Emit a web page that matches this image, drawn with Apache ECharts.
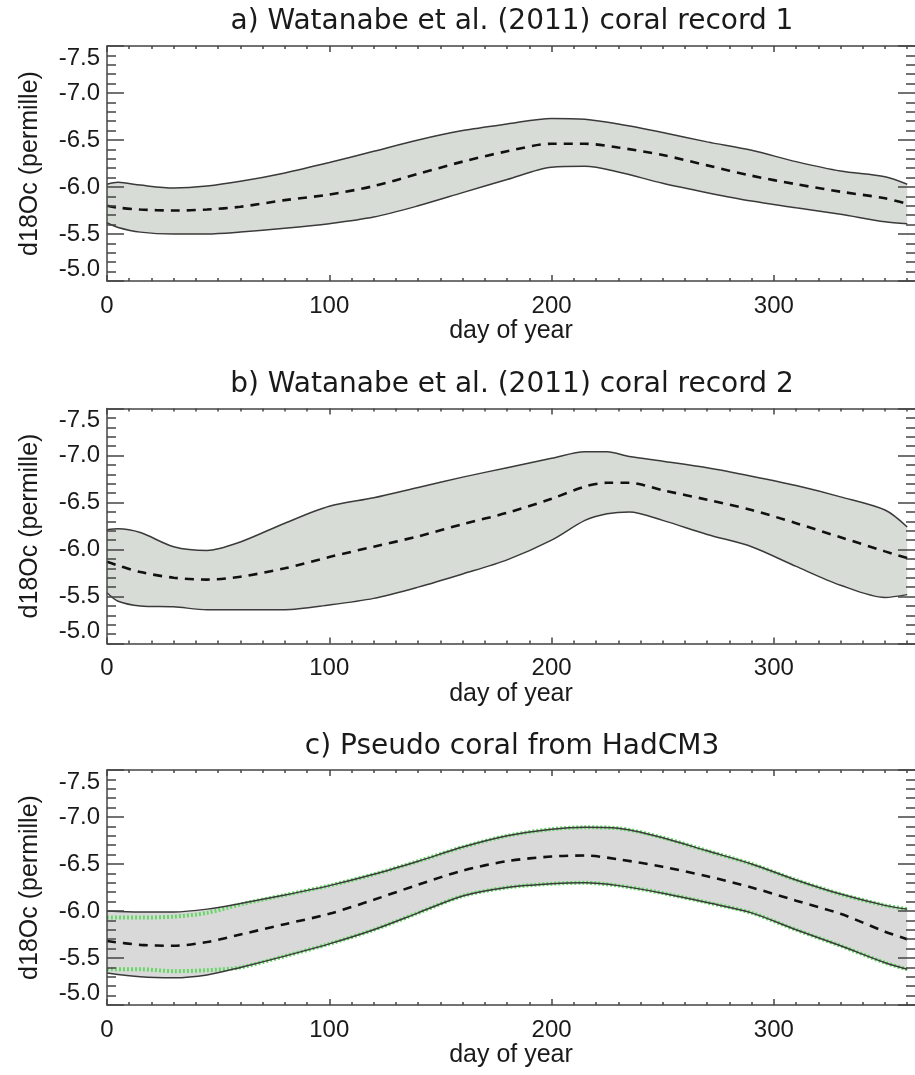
<!DOCTYPE html>
<html>
<head>
<meta charset="utf-8">
<script src="https://cdn.jsdelivr.net/npm/echarts@6/dist/echarts.min.js"></script>
<style>
html,body{margin:0;padding:0;background:#ffffff;}
#chart{width:915px;height:1075px;}
</style>
</head>
<body>
<div id="chart"></div>
<script>
// ---------------- data ----------------
const panelTitles = [
  'a) Watanabe et al. (2011) coral record 1',
  'b) Watanabe et al. (2011) coral record 2',
  'c) Pseudo coral from HadCM3'
];
const xAxisName = 'day of year';
const yAxisName = 'd18Oc (permille)';
const yTickValues = [-7.5, -7.0, -6.5, -6.0, -5.5, -5.0];
const xTickValues = [0, 100, 200, 300];
const xMinorTickValues = [10, 20, 30, 40, 50, 60, 70, 80, 90, 110, 120, 130, 140, 150, 160, 170, 180, 190,
  210, 220, 230, 240, 250, 260, 270, 280, 290, 310, 320, 330, 340, 350, 360];

// panel a
const daysA  = [0, 5, 15, 30, 45, 60, 80, 100, 120, 140, 160, 180, 200, 215, 230, 250, 270, 290, 310, 330, 350, 360];
const upperA = [-6.03, -6.05, -6.02, -5.99, -6.01, -6.06, -6.15, -6.26, -6.38, -6.50, -6.60, -6.67, -6.73, -6.72, -6.67, -6.58, -6.48, -6.39, -6.27, -6.17, -6.11, -6.03];
const meanA  = [-5.80, -5.78, -5.76, -5.75, -5.76, -5.79, -5.86, -5.92, -6.01, -6.14, -6.27, -6.38, -6.46, -6.46, -6.42, -6.34, -6.23, -6.12, -6.03, -5.95, -5.88, -5.82];
const lowerA = [-5.62, -5.57, -5.52, -5.50, -5.50, -5.52, -5.56, -5.61, -5.68, -5.80, -5.94, -6.08, -6.21, -6.22, -6.16, -6.04, -5.94, -5.85, -5.78, -5.71, -5.63, -5.61];

// panel b
const daysB  = [0, 5, 15, 30, 45, 60, 80, 100, 120, 140, 160, 180, 200, 215, 225, 235, 250, 270, 290, 310, 330, 350, 360];
const upperB = [-6.21, -6.22, -6.18, -6.03, -5.99, -6.08, -6.28, -6.46, -6.55, -6.66, -6.77, -6.87, -6.97, -7.04, -7.04, -6.99, -6.94, -6.87, -6.78, -6.68, -6.56, -6.42, -6.24];
const meanB  = [-5.87, -5.83, -5.76, -5.70, -5.68, -5.71, -5.80, -5.92, -6.03, -6.14, -6.27, -6.39, -6.54, -6.67, -6.71, -6.71, -6.63, -6.53, -6.42, -6.28, -6.13, -5.98, -5.91];
const lowerB = [-5.54, -5.45, -5.40, -5.39, -5.36, -5.36, -5.36, -5.41, -5.48, -5.60, -5.74, -5.89, -6.10, -6.31, -6.38, -6.40, -6.31, -6.16, -6.03, -5.82, -5.62, -5.49, -5.52];

// panel c
const daysC  = [0, 15, 30, 45, 60, 80, 100, 120, 140, 160, 180, 200, 215, 230, 250, 270, 290, 310, 330, 350, 360];
const upperC = [-6.00, -5.99, -5.99, -6.02, -6.08, -6.17, -6.27, -6.39, -6.53, -6.68, -6.80, -6.87, -6.89, -6.88, -6.78, -6.64, -6.50, -6.33, -6.18, -6.06, -6.02];
const meanC  = [-5.68, -5.64, -5.63, -5.67, -5.75, -5.86, -5.97, -6.12, -6.28, -6.43, -6.53, -6.58, -6.59, -6.55, -6.47, -6.37, -6.25, -6.11, -5.97, -5.78, -5.70];
const lowerC = [-5.34, -5.30, -5.29, -5.32, -5.40, -5.52, -5.65, -5.80, -5.98, -6.16, -6.25, -6.29, -6.30, -6.27, -6.19, -6.09, -5.98, -5.80, -5.63, -5.45, -5.38];
const greenUpperC = [-5.93, -5.93, -5.94, -5.98, -6.07, -6.17, -6.27, -6.39, -6.53, -6.68, -6.80, -6.87, -6.89, -6.88, -6.78, -6.64, -6.50, -6.33, -6.18, -6.06, -6.02];
const greenLowerC = [-5.38, -5.38, -5.36, -5.37, -5.40, -5.52, -5.65, -5.80, -5.98, -6.16, -6.25, -6.29, -6.30, -6.27, -6.19, -6.09, -5.98, -5.80, -5.63, -5.45, -5.38];

// ---------------- layout / style ----------------
const gridTops = [46, 408.5, 770];
const titleTops = [8, 371, 733];
const gridLeft = 107, gridWidth = 813, gridHeight = 235;
const xMax = 363.5;
const axisColor = '#444444';
const textColor = '#1a1a1a';
const labelFont = 'Liberation Sans, Arial, Helvetica, sans-serif';
const titleFont = 'DejaVu Sans, Liberation Sans, sans-serif';

const panels = [
  {days: daysA, upper: upperA, mean: meanA, lower: lowerA, fill: '#d8dcd7'},
  {days: daysB, upper: upperB, mean: meanB, lower: lowerB, fill: '#d8dcd7'},
  {days: daysC, upper: upperC, mean: meanC, lower: lowerC, fill: '#d9d9d9',
   gUpper: greenUpperC, gLower: greenLowerC}
];

const pairs = (days, vals) => days.map((d, k) => [d, vals[k]]);

const grid = [], xAxis = [], yAxis = [], series = [], title = [];

panels.forEach((p, i) => {
  grid.push({left: gridLeft, top: gridTops[i], width: gridWidth, height: gridHeight, containLabel: false});
  title.push({
    text: panelTitles[i], left: 512, top: titleTops[i], textAlign: 'center', padding: 0,
    textStyle: {fontSize: 28, fontWeight: 'normal', fontFamily: titleFont, color: textColor}
  });
  const baseX = {gridIndex: i, type: 'value', min: 0, max: xMax, z: 10, splitLine: {show: false}};
  // bottom major (with labels + name)
  xAxis.push(Object.assign({}, baseX, {
    position: 'bottom',
    name: xAxisName, nameLocation: 'middle', nameGap: 35,
    nameTextStyle: {fontSize: 25, color: textColor, fontFamily: labelFont},
    axisLine: {show: true, onZero: false, lineStyle: {color: axisColor, width: 1.5}},
    axisTick: {show: true, inside: true, length: 6, customValues: xTickValues, lineStyle: {color: axisColor, width: 1.5}},
    axisLabel: {show: true, customValues: xTickValues, margin: 13, fontSize: 24, color: textColor, fontFamily: labelFont},
    minorTick: {show: false}
  }));
  // top major
  xAxis.push(Object.assign({}, baseX, {
    position: 'top',
    axisLine: {show: true, onZero: false, lineStyle: {color: axisColor, width: 1.5}},
    axisTick: {show: true, inside: true, length: 6, customValues: xTickValues, lineStyle: {color: axisColor, width: 1.5}},
    axisLabel: {show: false}
  }));
  // minor ticks (one per side)
  ['bottom', 'top'].forEach(pos => {
    xAxis.push(Object.assign({}, baseX, {
      position: pos,
      axisLine: {show: false, onZero: false},
      axisTick: {show: true, inside: true, length: 3, customValues: xMinorTickValues, lineStyle: {color: axisColor, width: 1.5}},
      axisLabel: {show: false}
    }));
  });
  const baseY = {gridIndex: i, type: 'value', min: -7.5, max: -5.0, interval: 0.5, inverse: true, z: 10,
    splitLine: {show: false}};
  yAxis.push(Object.assign({}, baseY, {
    position: 'left',
    name: yAxisName, nameLocation: 'middle', nameGap: 64, nameRotate: 90,
    nameTextStyle: {fontSize: 25, color: textColor, fontFamily: labelFont},
    axisLine: {show: true, onZero: false, lineStyle: {color: axisColor, width: 1.5}},
    axisTick: {show: true, inside: true, length: 17, lineStyle: {color: axisColor, width: 1.5}},
    minorTick: {show: true, splitNumber: 5, length: 9, lineStyle: {color: axisColor, width: 1.5}},
    axisLabel: {show: true, customValues: yTickValues, margin: 7, fontSize: 24, color: textColor, fontFamily: labelFont,
      formatter: v => Number(v).toFixed(1),
      verticalAlignMinLabel: 'top', verticalAlignMaxLabel: 'bottom'}
  }));
  yAxis.push(Object.assign({}, baseY, {
    position: 'right',
    axisLine: {show: false, onZero: false},
    axisTick: {show: true, inside: true, length: 17, lineStyle: {color: axisColor, width: 1.5}},
    minorTick: {show: true, splitNumber: 5, length: 9, lineStyle: {color: axisColor, width: 1.5}},
    axisLabel: {show: false}
  }));

  const common = {type: 'line', xAxisIndex: i * 4, yAxisIndex: i * 2, smooth: 0.3, symbol: 'none',
    showSymbol: false, silent: true, animation: false};
  // band: fill under upper bound, then white under lower bound
  series.push(Object.assign({}, common, {
    data: pairs(p.days, p.upper), z: 1, lineStyle: {opacity: 0},
    areaStyle: {color: p.fill, opacity: 1, origin: 'end'}
  }));
  series.push(Object.assign({}, common, {
    data: pairs(p.days, p.lower), z: 1, lineStyle: {opacity: 0},
    areaStyle: {color: '#ffffff', opacity: 1, origin: 'end'}
  }));
  if (p.gUpper) {
    [p.gUpper, p.gLower].forEach(g => {
      series.push(Object.assign({}, common, {
        data: pairs(p.days, g), z: 2,
        lineStyle: {color: '#66d866', width: 4, type: [2, 2]}
      }));
    });
  }
  [p.upper, p.lower].forEach(b => {
    series.push(Object.assign({}, common, {
      data: pairs(p.days, b), z: 3,
      lineStyle: {color: '#3a3a3a', width: 1.5}
    }));
  });
  series.push(Object.assign({}, common, {
    data: pairs(p.days, p.mean), z: 4,
    lineStyle: {color: '#111111', width: 2.6, type: [9, 7]}
  }));
});

const chart = echarts.init(document.getElementById('chart'), null, {renderer: 'canvas'});
chart.setOption({
  backgroundColor: '#ffffff',
  animation: false,
  title, grid, xAxis, yAxis, series
});
</script>
</body>
</html>
